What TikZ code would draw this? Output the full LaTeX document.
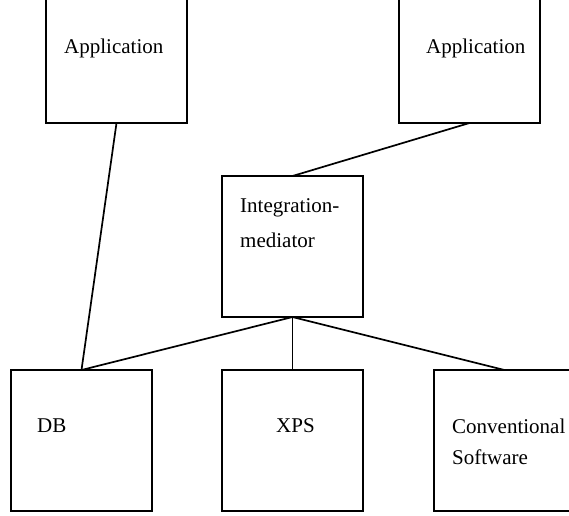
\documentclass[tikz,border=0pt]{standalone}
\usepackage{fontspec}
\setmainfont{Liberation Serif}
\begin{document}
\begin{tikzpicture}[x=1pt,y=-1pt,
  box/.style={draw, line width=1.8pt, minimum width=141pt, minimum height=141pt, inner sep=0pt, outer sep=0pt},
  lbl/.style={anchor=base west, inner sep=0pt, font=\fontsize{21}{24}\selectfont},
  link/.style={line width=1.7pt}]
\useasboundingbox (0,0) rectangle (569,515);
\clip (0,0) rectangle (569,515);

% boxes
\node[box] (app1) at (116.5,52.5) {};
\node[box] (app2) at (469.5,52.5) {};
\node[box] (med)  at (292.5,246.5) {};
\node[box] (db)   at (81.5,440.5) {};
\node[box] (xps)  at (292.5,440.5) {};
\node[box] (conv) at (504.5,440.5) {};

% labels
\node[lbl] (app1t) at (64,53) {Application};
\node[lbl] (app2t) at (426,53) {Application};
\node[lbl] (medt1) at (240,212) {Integration-};
\node[lbl] (medt2) at (240,247) {mediator};
\node[lbl] (dbt)   at (37,432) {DB};
\node[lbl] (xpst)  at (276,432) {XPS};
\node[lbl] (convt1) at (452,433) {Conventional};
\node[lbl] (convt2) at (452,464) {Software};

% connectors
\draw[link] (app1.south) -- (db.north);
\draw[link] (app2.south) -- (med.north);
\draw[link] (med.south) -- (db.north);
\draw[link] (med.south) -- (xps.north);
\draw[link] (med.south) -- (conv.north);
\end{tikzpicture}
\end{document}
